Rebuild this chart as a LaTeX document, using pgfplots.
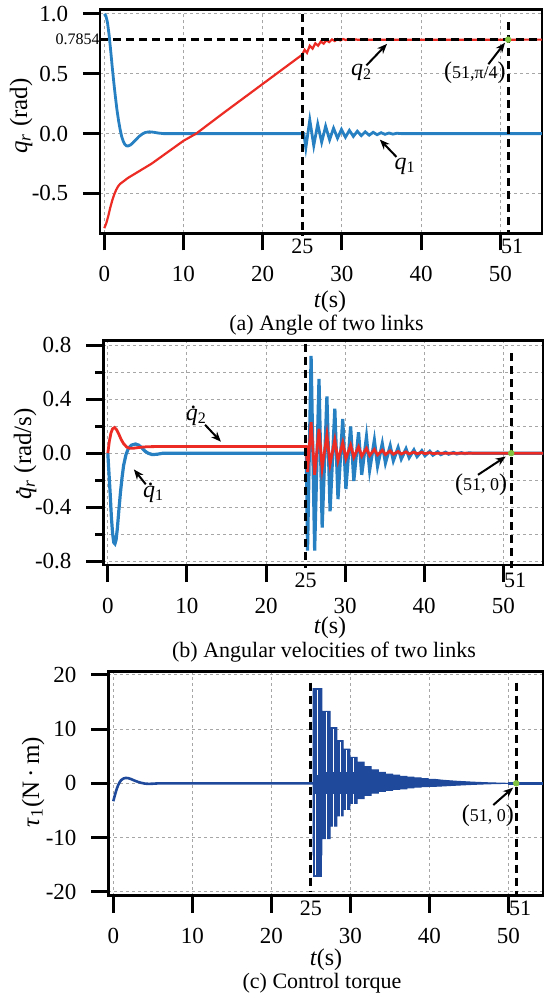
\documentclass[border=0pt]{standalone}
\usepackage{fontspec}
\setmainfont{Liberation Serif}
\usepackage{pgfplots}
\pgfplotsset{compat=1.18}
\usetikzlibrary{arrows.meta}
\definecolor{qblue}{RGB}{38,128,194}
\definecolor{qred}{RGB}{236,44,36}
\definecolor{tblue}{RGB}{31,73,155}
\definecolor{gdot}{RGB}{130,195,65}
\newcommand{\qd}{\textit{q}\llap{\raisebox{0.5em}{.}\hspace{0.06em}}}
\pgfplotsset{
  panel/.style={
    scale only axis, clip=false,
    axis line style={line width=1.3pt},
    tick align=outside, xtick pos=bottom, ytick pos=left,
    major tick length=8.5pt, minor tick length=4pt,
    tick style={black, line width=1.5pt},
    xtick={0,10,20,30,40,50}, xticklabels={0,10,20,30,40,50},
    grid=major,
    major grid style={gray!70, line width=0.5pt, dash pattern=on 1.5pt off 1.5pt},
    minor grid style={gray!70, line width=0.5pt, dash pattern=on 1.5pt off 1.5pt},
    unbounded coords=jump,
    /pgf/number format/assume math mode=true,
    tick label style={font=\fontsize{11.5}{12}\selectfont, inner sep=0pt},
    xticklabel style={anchor=center, yshift=-11.8pt},
    yticklabel style={anchor=east, xshift=-7.2pt},
  },
}
\tikzset{
  vline/.style={black, line width=1.5pt, dash pattern=on 4pt off 2.5pt},
  arr/.style={-{Stealth[length=5pt,width=4pt]}, line width=1pt, black},
  ylab/.style={rotate=90, inner sep=0pt, font=\fontsize{12.5}{13}\selectfont},
}
\begin{document}
\begin{tikzpicture}
\useasboundingbox (0,0) rectangle (272.5pt,-500.5pt);
% ---------------- (a)
\begin{axis}[panel, at={(50pt,-116.65pt)}, anchor=south west,
  width=221pt, height=112pt,
  xmin=-0.54, xmax=55.27, ymin=-0.833, ymax=1.039,
  ytick={-0.5,0,0.5,1}, yticklabels={-0.5,0.0,0.5,1.0}]
\addplot[qblue, line width=1.4pt] coordinates {
(0,1.0) (0.2,0.985) (0.4,0.93) (0.6,0.83) (0.8,0.7) (1.0,0.56) (1.2,0.43) (1.4,0.31) (1.6,0.2) (1.8,0.11) (2.0,0.035) (2.2,-0.025) (2.4,-0.065) (2.6,-0.09) (2.8,-0.102) (3.0,-0.103) (3.3,-0.095) (3.6,-0.078) (4.0,-0.05) (4.4,-0.023) (4.8,-0.003) (5.2,0.01) (5.7,0.015) (6.2,0.012) (6.8,0.005) (7.5,0) (25.2,0) (25.45,-0.12) (25.95,0.115) (26.45,-0.1) (26.95,0.08) (27.45,-0.072) (27.95,0.062) (28.45,-0.052) (28.95,0.045) (29.45,-0.038) (29.95,0.035) (30.45,-0.03) (30.95,0.027) (31.45,-0.023) (31.95,0.02) (32.45,-0.017) (32.95,0.015) (33.45,-0.013) (33.95,0.011) (34.45,-0.009) (34.95,0.008) (35.45,-0.006) (35.95,0.005) (36.45,-0.004) (36.95,0.003) (37.5,0) (55.27,0)};
\addplot[qred, line width=1.1pt] coordinates {
(0,-0.79) (0.25,-0.75) (0.5,-0.69) (0.75,-0.62) (1.0,-0.56) (1.25,-0.51) (1.5,-0.47) (1.75,-0.44) (2.0,-0.42) (3.0,-0.37) (4.0,-0.33) (5.0,-0.29) (6.0,-0.25) (8.0,-0.155) (10.0,-0.06) (11.6,0.0) (15,0.17) (20,0.415) (25,0.66) (25.3,0.70) (25.6,0.675) (25.95,0.735) (26.3,0.71) (26.65,0.755) (27.0,0.735) (27.35,0.77) (27.7,0.752) (28.05,0.78) (28.4,0.765) (28.75,0.787) (29.1,0.774) (29.45,0.79) (29.8,0.779) (30.15,0.791) (30.5,0.782) (30.85,0.79) (31.2,0.784) (31.55,0.788) (32,0.785) (55.27,0.7854)};
\draw[vline] (axis cs:-0.54,0.7854) -- (axis cs:55.27,0.7854);
\draw[vline] (axis cs:25,1.0) -- (axis cs:25,-0.85);
\draw[vline] (axis cs:51,0.93) -- (axis cs:51,-0.85);
\addplot[only marks, mark=*, mark size=1.4pt, gdot] coordinates {(51,0.7854)};
\node[font=\fontsize{8}{9}\selectfont, anchor=east, inner sep=0pt] at (axis cs:-0.54,0.7854) {0.7854\hspace{1.5pt}};
\node[font=\fontsize{11}{12}\selectfont] at (axis cs:25,-0.833) [yshift=-6.5pt] {25};
\node[font=\fontsize{11}{12}\selectfont] at (axis cs:51.5,-0.833) [yshift=-6.5pt] {51};
\node[font=\fontsize{12}{13}\selectfont] at (axis cs:32.5,0.51) {\textit{q}\textsubscript{2}};
\draw[arr] (axis cs:33.1,0.57) -- (axis cs:35.7,0.75);
\node[font=\fontsize{12}{13}\selectfont] at (axis cs:38.0,-0.27) {\textit{q}\textsubscript{1}};
\draw[arr] (axis cs:36.9,-0.195) -- (axis cs:34.8,-0.05);
\node[font=\fontsize{9}{10}\selectfont] at (axis cs:46.8,0.51) {{\large(}51,π/4{\large)}};
\draw[arr] (axis cs:48.5,0.58) -- (axis cs:50.6,0.76);
\end{axis}
% ---------------- (b)
\begin{axis}[panel, at={(51.65pt,-282.5pt)}, anchor=south west,
  width=219.85pt, height=112.15pt,
  xmin=-0.57, xmax=55.02, ymin=-0.827, ymax=0.832,
  ytick={-0.8,-0.4,0,0.4,0.8}, yticklabels={-0.8,-0.4,0.0,0.4,0.8},
  minor ytick={-0.6,-0.2,0.2,0.6}, grid=both]
\addplot[qblue, line width=1.6pt] coordinates {
(0,0) (0.15,-0.15) (0.3,-0.3) (0.45,-0.47) (0.6,-0.59) (0.75,-0.66) (0.9,-0.67) (1.05,-0.64) (1.2,-0.56) (1.4,-0.42) (1.6,-0.29) (1.8,-0.18) (2.0,-0.09) (2.3,-0.01) (2.6,0.035) (3.0,0.06) (3.5,0.068) (3.9,0.06) (4.3,0.04) (4.7,0.015) (5.1,0.0) (5.6,-0.01) (6.2,-0.008) (7.0,0) (25.1,0) (25.25,-0.72) (25.7,0.72) (26.15,-0.72) (26.7,0.55) (27.1,-0.55) (27.7,0.42) (28.1,-0.43) (28.7,0.33) (29.1,-0.34) (29.7,0.253) (30.1,-0.265) (30.7,0.197) (31.1,-0.205) (31.7,0.155) (32.1,-0.16) (32.7,0.12) (33.1,-0.125) (33.7,0.095) (34.1,-0.095) (34.7,0.07) (35.1,-0.072) (35.7,0.054) (36.1,-0.055) (36.7,0.041) (37.1,-0.042) (37.7,0.032) (38.1,-0.032) (38.7,0.024) (39.1,-0.024) (39.7,0.018) (40.1,-0.018) (40.7,0.014) (41.1,-0.014) (41.7,0.01) (42.1,-0.01) (42.7,0.007) (43.1,-0.007) (43.7,0.005) (44.1,-0.005) (44.7,0.003) (45.1,-0.003) (45.7,0.002) (46.1,0) (55.02,0)};
\addplot[qred, line width=1.4pt] coordinates {
(0,0) (0.2,0.09) (0.4,0.15) (0.6,0.18) (0.85,0.19) (1.1,0.175) (1.4,0.14) (1.7,0.1) (2.0,0.07) (2.4,0.045) (2.8,0.036) (3.3,0.037) (4.0,0.043) (5,0.048) (7,0.05) (25.1,0.05) (25.25,-0.14) (25.7,0.23) (26.15,-0.16) (26.7,0.18) (27.1,-0.11) (27.7,0.135) (28.1,-0.08) (28.7,0.10) (29.1,-0.055) (29.7,0.078) (30.1,-0.04) (30.7,0.06) (31.1,-0.03) (31.7,0.047) (32.1,-0.022) (32.7,0.036) (33.1,-0.017) (33.7,0.028) (34.1,-0.013) (34.7,0.022) (35.1,-0.01) (35.7,0.017) (36.1,-0.008) (36.7,0.013) (37.1,-0.006) (37.7,0.01) (38.1,-0.005) (38.7,0.008) (39.1,-0.004) (39.7,0.006) (40.1,-0.003) (40.7,0.004) (41.1,-0.002) (42,0) (55.02,0)};
\draw[vline] (axis cs:25,0.81) -- (axis cs:25,-0.85);
\draw[vline] (axis cs:51,0.74) -- (axis cs:51,-0.85);
\addplot[only marks, mark=*, mark size=1.4pt, gdot] coordinates {(51,0)};
\node[font=\fontsize{11}{12}\selectfont] at (axis cs:25,-0.827) [yshift=-7.5pt] {25};
\node[font=\fontsize{11}{12}\selectfont] at (axis cs:51.5,-0.827) [yshift=-7.5pt] {51};
\node[font=\fontsize{12}{13}\selectfont] at (axis cs:11.2,0.28) {\qd\textsubscript{2}};
\draw[arr] (axis cs:12.3,0.21) -- (axis cs:14.3,0.085);
\node[font=\fontsize{12}{13}\selectfont] at (axis cs:5.8,-0.29) {\qd\textsubscript{1}};
\draw[arr] (axis cs:4.8,-0.23) -- (axis cs:3.3,-0.12);
\node[font=\fontsize{9}{10}\selectfont] at (axis cs:47.2,-0.235) {{\large(}51, 0{\large)}};
\draw[arr] (axis cs:46.8,-0.16) -- (axis cs:50.3,-0.025);
\end{axis}
% ---------------- (c)
\begin{axis}[panel, at={(54.15pt,-447.85pt)}, anchor=south west,
  width=217.35pt, height=112pt,
  xmin=-0.63, xmax=54.39, ymin=-20.74, ymax=20.6,
  ytick={-20,-10,0,10,20}, yticklabels={-20,-10,0,10,20}]
\addplot[tblue, line width=1.3pt] coordinates {
(0,-3.3) (0.2,-2.2) (0.4,-1.2) (0.6,-0.4) (0.8,0.2) (1.0,0.6) (1.3,0.9) (1.6,1.0) (1.9,0.95) (2.3,0.75) (2.7,0.5) (3.1,0.28) (3.5,0.1) (4.0,-0.05) (4.5,-0.1) (5.0,-0.07) (5.8,0) (25.3,0)};
\addplot[tblue, line width=1.3pt] coordinates {(50,0) (54.39,0)};
\addplot[tblue, fill=tblue, line width=0.5pt] coordinates {
(25.3,0) (25.3,17.5) (26.4,17.5) (26.4,13.3) (27.45,13.3) (27.45,10.3) (28.3,10.3) (28.3,7.9) (29.1,7.9) (29.1,6.3) (29.95,6.3) (29.95,4.8) (30.85,4.8) (30.85,3.9) (31.75,3.9) (31.75,3.1) (32.65,3.1) (32.65,2.5) (33.55,2.5) (33.55,2.0) (34.45,2.0) (34.45,1.7) (35.35,1.7) (35.35,1.5) (36.25,1.5) (36.25,1.3) (37.15,1.3) (37.15,1.15) (38.05,1.15) (38.05,1.0) (38.95,1.0) (38.95,0.85) (39.85,0.85) (39.85,0.72) (40.75,0.72) (41.5,0.6) (42.5,0.48) (43.5,0.38) (44.5,0.3) (45.5,0.22) (46.5,0.16) (47.5,0.1) (48.5,0.06) (50,0)
(48.5,-0.05) (47.5,-0.09) (46.5,-0.14) (45.5,-0.2) (44.5,-0.27) (43.5,-0.34) (42.5,-0.42) (41.5,-0.5) (40.75,-0.55) (39.85,-0.55) (39.85,-0.62) (38.95,-0.62) (38.95,-0.72) (38.05,-0.72) (38.05,-0.85) (37.15,-0.85) (37.15,-1.0) (36.25,-1.0) (36.25,-1.12) (35.35,-1.12) (35.35,-1.3) (34.45,-1.3) (34.45,-1.5) (33.55,-1.5) (33.55,-1.8) (32.65,-1.8) (32.65,-2.2) (31.75,-2.2) (31.75,-2.8) (30.85,-2.8) (30.85,-3.7) (29.95,-3.7) (29.95,-4.8) (29.1,-4.8) (29.1,-6.0) (28.3,-6.0) (28.3,-7.9) (27.45,-7.9) (27.45,-10.2) (26.4,-10.2) (26.4,-13.2) (25.3,-13.2) (25.3,0)} --cycle;
\addplot[tblue, fill=tblue, line width=0.5pt] coordinates {
(25.3,-5) (25.3,-17.2) (26.4,-17.2) (26.4,-5)} --cycle;
\addplot[white, line width=0.45pt] coordinates {
(25.85,17.3) (25.85,1.5) (25.85,nan)
(26.95,13.1) (26.95,2.0) (26.95,nan)
(27.9,10.1) (27.9,2.0) (27.9,nan)
(28.7,7.7) (28.7,2.0) (28.7,nan)
(29.55,6.1) (29.55,2.0) (29.55,nan)
(30.4,4.6) (30.4,2.0) (30.4,nan)
(25.65,-17.0) (25.65,-2.0) (25.65,nan)
(26.95,-13.0) (26.95,-2.0) (26.95,nan)
(27.9,-10.0) (27.9,-2.0) (27.9,nan)
(28.7,-7.7) (28.7,-2.0) (28.7,nan)
(29.55,-5.8) (29.55,-2.0) (29.55,nan)
(30.4,-4.6) (30.4,-2.0)};
\draw[vline] (axis cs:25,18.6) -- (axis cs:25,-19.9);
\draw[vline] (axis cs:51,18.6) -- (axis cs:51,-20.74);
\addplot[only marks, mark=*, mark size=1.4pt, gdot] coordinates {(51,0)};
\node[font=\fontsize{11}{12}\selectfont] at (axis cs:25,-20.74) [yshift=-6.5pt] {25};
\node[font=\fontsize{11}{12}\selectfont] at (axis cs:51.5,-20.74) [yshift=-6.5pt] {51};
\node[font=\fontsize{9}{10}\selectfont] at (axis cs:47.4,-5.9) {{\large(}51, 0{\large)}};
\draw[arr] (axis cs:48.1,-4.0) -- (axis cs:50.6,-0.8);
\end{axis}
% ---------------- labels
\node[ylab] at (10.5pt,-58pt) {\textit{q}\textsubscript{\textit{r}} (rad)};
\node[ylab] at (12.6pt,-227pt) {\qd\textsubscript{\textit{r}} (rad/s)};
\node[ylab] at (16.5pt,-391pt) {\textit{τ}\textsubscript{1}(N\,·\,m)};
\node[font=\fontsize{12}{13}\selectfont] at (165pt,-150.85pt) {\textit{t}(s)};
\node[font=\fontsize{12}{13}\selectfont] at (165pt,-314pt) {\textit{t}(s)};
\node[font=\fontsize{12}{13}\selectfont] at (163pt,-480pt) {\textit{t}(s)};
\node[font=\fontsize{11}{12}\selectfont] at (163.25pt,-162.5pt) {(a) Angle of two links};
\node[font=\fontsize{11}{12}\selectfont] at (162pt,-326pt) {(b) Angular velocities of two links};
\node[font=\fontsize{11}{12}\selectfont] at (161pt,-491.5pt) {(c) Control torque};
\end{tikzpicture}
\end{document}
